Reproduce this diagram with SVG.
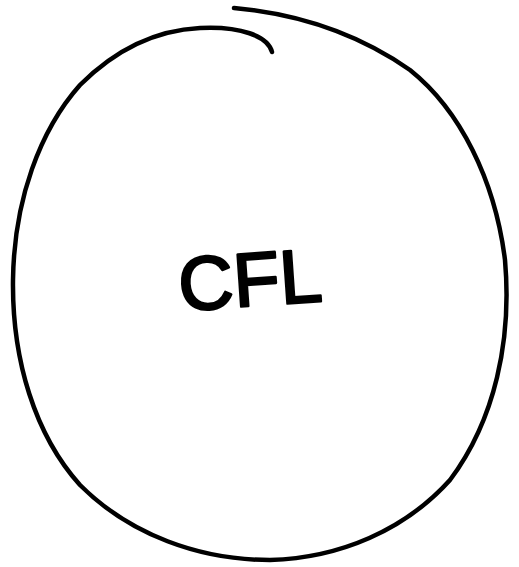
<svg xmlns="http://www.w3.org/2000/svg" width="519" height="567" viewBox="0 0 519 567">
<style>
.outline{fill:none;stroke:#000;stroke-width:4.5;stroke-linecap:round;stroke-linejoin:round}
.lbl{font-family:"Liberation Sans",Arial,sans-serif;font-size:76px;fill:#000;stroke:#000;stroke-width:2.5;stroke-linejoin:round;text-anchor:middle}
</style>
<rect width="519" height="567" fill="#fff"/>
<g id="cfl">
<path class="outline" d="M234,8 C300,14 360,35 410,70 C460,110 495,180 505,260 C512,340 495,420 450,480 C405,530 340,558 270,560 C200,560 130,535 80,485 C35,435 12,360 13,280 C14,200 40,130 80,85 C120,45 160,30 200,28 C240,26 268,36 272,52"/>
<text class="lbl" x="250" y="306" transform="rotate(-4 250 280)">CFL</text>
</g>
</svg>
